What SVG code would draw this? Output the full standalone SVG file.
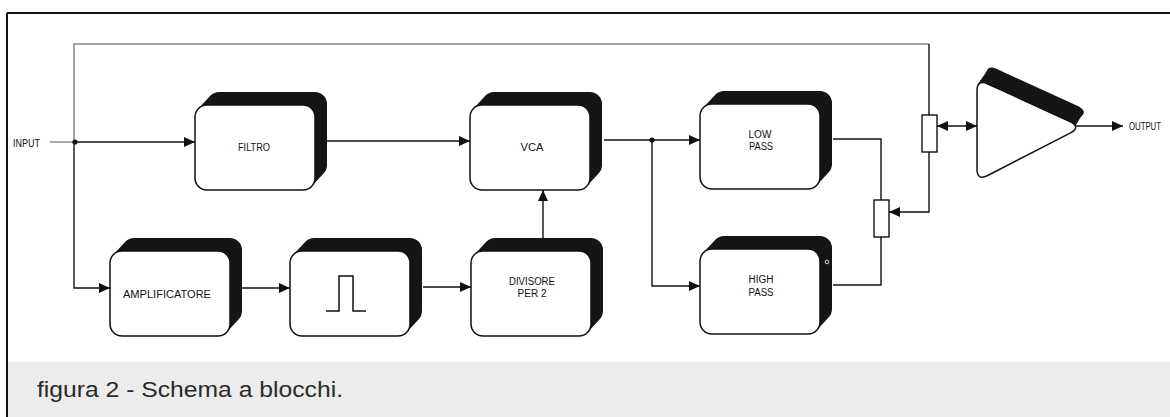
<svg xmlns="http://www.w3.org/2000/svg" xmlns:xlink="http://www.w3.org/1999/xlink" width="1170" height="417" viewBox="0 0 1170 417">
<style>
.ln{fill:none;stroke:#111;stroke-width:1.4}
.lbl{font-family:"Liberation Sans",Arial,sans-serif;font-size:10px;fill:#111;text-anchor:middle}
.face{fill:#fff;stroke:#111;stroke-width:1.5}
.shadow{fill:#151515}
.tshadow{fill:#151515;stroke:#151515;stroke-width:5;stroke-linejoin:round}
</style>
<defs>
<marker id="ah" markerUnits="userSpaceOnUse" markerWidth="11" markerHeight="10" refX="11" refY="5" orient="auto-start-reverse">
<path d="M0,0 L11,5 L0,10 Z" fill="#111"/>
</marker>
<g id="blk">
<path class="shadow" d="M3.5,3.5 L15.5,-9.5 A12 12 0 0 1 24,-13 L120,-13 A12 12 0 0 1 132,-1 L132,60 A12 12 0 0 1 128.5,68.5 L116.5,81.5 A12 12 0 0 1 108,85 L12,85 A12 12 0 0 1 0,73 L0,12 A12 12 0 0 1 3.5,3.5 Z"/>
<rect class="face" x="0" y="0" width="120" height="85" rx="12"/>
</g>
</defs>
<rect width="1170" height="417" fill="#fff"/>
<rect x="8" y="362" width="1162" height="55" fill="#ececec"/>
<g id="frame">
<line x1="7" y1="13" x2="1170" y2="13" stroke="#111" stroke-width="2"/>
<line x1="7" y1="13" x2="7" y2="417" stroke="#111" stroke-width="2"/>
</g>
<g id="connectors">
<line x1="50" y1="142" x2="73" y2="142" stroke="#555" stroke-width="1"/>
<path class="ln" d="M75,142 H195" marker-end="url(#ah)"/>
<path class="ln" d="M74,142 V288 H110" marker-end="url(#ah)"/>
<path d="M74,142 V44 H929" fill="none" stroke="#888" stroke-width="1.5"/>
<path class="ln" d="M929,44 V115"/>
<path class="ln" d="M929,152 V212 H889" marker-end="url(#ah)"/>
<path class="ln" d="M327,141 H470" marker-end="url(#ah)"/>
<path class="ln" d="M604,140 H700" marker-end="url(#ah)"/>
<path class="ln" d="M652,140 V286 H700" marker-end="url(#ah)"/>
<path class="ln" d="M833,139 H881 V200"/>
<path class="ln" d="M881,237 V285 H833"/>
<path class="ln" d="M242,288 H290" marker-end="url(#ah)"/>
<path class="ln" d="M423,287 H471" marker-end="url(#ah)"/>
<path class="ln" d="M543,238 V190" marker-end="url(#ah)"/>
<path class="ln" d="M937,126 H977" marker-start="url(#ah)" marker-end="url(#ah)"/>
<path class="ln" d="M1076,126 H1123" marker-end="url(#ah)"/>
<circle cx="75" cy="142" r="2.6" fill="#111"/>
<circle cx="652" cy="140" r="2.6" fill="#111"/>
</g>
<g id="input"><text class="lbl" x="26.5" y="147" textLength="27" lengthAdjust="spacingAndGlyphs">INPUT</text></g>
<g id="filtro"><use href="#blk" x="195" y="105"/><text class="lbl" x="254" y="151" textLength="32" lengthAdjust="spacingAndGlyphs">FILTRO</text></g>
<g id="vca"><use href="#blk" x="470" y="105"/><text class="lbl" x="532" y="151" textLength="23" lengthAdjust="spacingAndGlyphs">VCA</text></g>
<g id="lowpass"><use href="#blk" x="700" y="104"/><text class="lbl" x="760" y="138" textLength="23" lengthAdjust="spacingAndGlyphs">LOW</text><text class="lbl" x="761" y="150" textLength="24" lengthAdjust="spacingAndGlyphs">PASS</text></g>
<g id="amplificatore"><use href="#blk" x="110" y="251"/><text class="lbl" x="167" y="298" textLength="88" lengthAdjust="spacingAndGlyphs">AMPLIFICATORE</text></g>
<g id="impulso"><use href="#blk" x="290" y="251"/><path d="M326,311 H339 V276 H353 V311 H366" fill="none" stroke="#111" stroke-width="1.5"/></g>
<g id="divisore"><use href="#blk" x="471" y="251"/><text class="lbl" x="532" y="285" textLength="46" lengthAdjust="spacingAndGlyphs">DIVISORE</text><text class="lbl" x="532" y="297" textLength="29" lengthAdjust="spacingAndGlyphs">PER 2</text></g>
<g id="highpass"><use href="#blk" x="700" y="249"/><circle cx="827" cy="262" r="1.8" fill="none" stroke="#fff" stroke-width="0.8"/><text class="lbl" x="761" y="283" textLength="25" lengthAdjust="spacingAndGlyphs">HIGH</text><text class="lbl" x="761" y="296" textLength="25" lengthAdjust="spacingAndGlyphs">PASS</text></g>
<g id="pot1"><rect x="922" y="115" width="15" height="37" fill="#fff" stroke="#111" stroke-width="1.4"/></g>
<g id="pot2"><rect x="874" y="200" width="15" height="37" fill="#fff" stroke="#111" stroke-width="1.4"/></g>
<g id="amp-out">
<polygon class="tshadow" points="981,84 990,71 1081,112 1073,125"/>
<path class="shadow" transform="translate(9,-15)" d="M977,91 Q977,79 987.9,84 L1069.3,121.2 Q1080,127 1069.6,133.4 L987.7,175.5 Q977,181 977,169 Z"/>
<path class="face" d="M977,91 Q977,79 987.9,84 L1069.3,121.2 Q1082,127 1069.6,133.4 L987.7,175.5 Q977,181 977,169 Z"/>
</g>
<g id="output"><text class="lbl" x="1145" y="130" textLength="32" lengthAdjust="spacingAndGlyphs">OUTPUT</text></g>
<g id="caption"><text x="37" y="397" textLength="306" lengthAdjust="spacingAndGlyphs" style="font-family:'Liberation Sans',Arial,sans-serif;font-size:22px;fill:#2a2a2a">figura 2 - Schema a blocchi.</text></g>
</svg>
